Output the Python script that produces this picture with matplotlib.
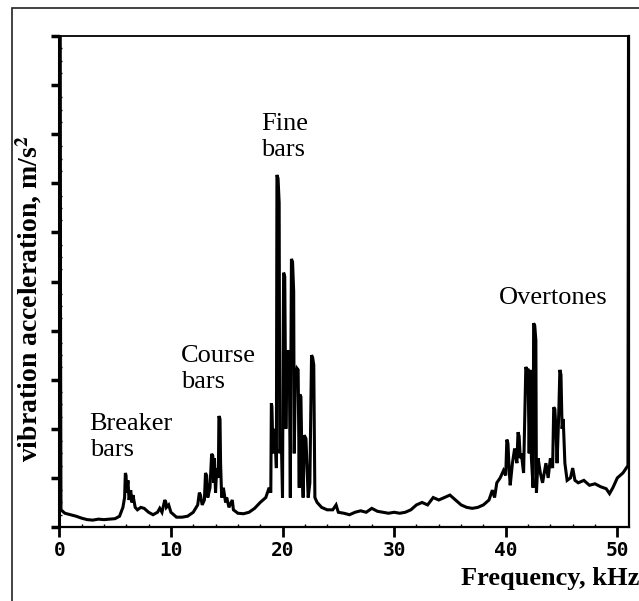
import matplotlib
matplotlib.use('Agg')
import matplotlib.pyplot as plt
from matplotlib.patches import Rectangle
from matplotlib.ticker import MultipleLocator, NullFormatter

# spectrum (kHz, arbitrary acceleration units)
freq = [0.0, 0.05, 0.15, 0.5, 1.0, 1.5, 2.0, 2.5, 3.0, 3.5, 4.0, 4.5, 5.0, 5.4,
        5.7, 5.85, 5.92, 5.98, 6.05, 6.15, 6.25, 6.4, 6.5, 6.6, 6.8, 7.0, 7.3,
        7.6, 8.0, 8.4, 8.8, 9.0, 9.2, 9.45, 9.55, 9.6, 9.8, 10.0, 10.5, 11.0,
        11.5, 12.0, 12.4, 12.55, 12.65, 12.8, 13.0, 13.1, 13.2, 13.3, 13.5,
        13.65, 13.75, 13.85, 13.9, 14.0, 14.1, 14.25, 14.3, 14.4, 14.45,
        14.55, 14.7, 14.9, 15.0, 15.2, 15.5, 15.6, 16.0, 16.5, 17.0, 17.5,
        18.0, 18.5, 18.8, 18.95, 19.0, 19.05, 19.15, 19.25, 19.35, 19.45,
        19.5, 19.6, 19.7, 19.75, 19.9, 20.0, 20.05, 20.1, 20.2, 20.3, 20.4,
        20.5, 20.6, 20.7, 20.75, 20.8, 20.9, 21.0, 21.05, 21.15, 21.3,
        21.4, 21.5, 21.55, 21.65, 21.75, 21.85, 21.95, 22.1, 22.2, 22.3,
        22.45, 22.6, 22.7, 22.8, 22.9, 23.1, 23.5, 24.0, 24.5, 24.8, 25.0,
        25.5, 26.0, 26.5, 27.0, 27.5, 28.0, 28.5, 29.0, 29.5, 30.0, 30.5,
        31.0, 31.5, 32.0, 32.5, 33.0, 33.5, 34.0, 34.5, 35.0, 35.5, 36.0,
        36.5, 37.0, 37.5, 38.0, 38.5, 38.8, 39.0, 39.2, 39.5, 39.8, 40.0,
        40.1, 40.2, 40.3, 40.4, 40.6, 40.8, 41.0, 41.1, 41.2, 41.3, 41.4,
        41.6, 41.8, 41.9, 42.0, 42.1, 42.2, 42.3, 42.45, 42.5, 42.6, 42.7,
        42.75, 42.9, 43.1, 43.3, 43.6, 43.8, 44.0, 44.2, 44.3, 44.4, 44.5,
        44.6, 44.75, 44.85, 44.95, 45.05, 45.15, 45.3, 45.5, 45.8, 46.0,
        46.2, 46.5, 47.0, 47.5, 48.0, 48.5, 49.0, 49.3, 49.6, 50.0, 50.5,
        50.8, 50.95, 51.0]
accel = [0.3, 10.0, 0.35, 0.28, 0.25, 0.22, 0.18, 0.15, 0.14, 0.16, 0.15, 0.16, 0.17, 0.22,
         0.4, 0.6, 1.1, 1.05, 0.7, 0.95, 0.55, 0.75, 0.5, 0.65, 0.4, 0.35, 0.4,
         0.38, 0.3, 0.25, 0.3, 0.38, 0.3, 0.55, 0.5, 0.4, 0.45, 0.3, 0.2, 0.2,
         0.22, 0.3, 0.45, 0.7, 0.65, 0.45, 0.55, 1.1, 1.05, 0.6, 0.8,
         1.49, 1.45, 0.9, 1.4, 0.7, 1.2, 1.0, 2.26, 2.2, 1.3,
         0.6, 0.8, 0.5, 0.6, 0.4, 0.55, 0.35, 0.28, 0.27, 0.3, 0.38,
         0.5, 0.6, 0.8, 0.7, 2.52, 2.45, 1.5, 2.0, 1.8, 1.2,
         7.17, 7.1, 6.6, 1.5, 1.7, 0.6, 3.5, 5.18, 5.1, 2.0, 3.6,
         3.5, 3.6, 0.6, 3.4, 5.46, 5.4, 4.8, 1.5, 3.0, 3.23,
         3.2, 0.8, 2.7, 2.65, 1.2, 0.6, 1.87, 1.8, 1.2, 0.6,
         0.9, 3.5, 3.45, 3.3, 0.6, 0.5, 0.4, 0.35, 0.35, 0.45, 0.3,
         0.28, 0.25, 0.3, 0.33, 0.3, 0.38, 0.32, 0.3, 0.28, 0.3, 0.28,
         0.3, 0.35, 0.45, 0.5, 0.45, 0.6, 0.55, 0.6, 0.65, 0.55, 0.45,
         0.4, 0.38, 0.4, 0.45, 0.55, 0.75, 0.6, 0.9, 1.0, 1.15, 1.05,
         1.78, 1.7, 1.2, 0.85, 1.3, 1.6, 1.3, 1.93, 1.85, 1.4, 1.5,
         1.1, 3.26, 3.2, 3.2, 1.5, 3.2, 1.4, 0.8, 4.15, 4.1, 3.8,
         0.7, 1.4, 1.1, 0.9, 1.3, 1.0, 1.4, 1.2, 2.44, 2.4, 2.0,
         1.3, 2.3, 3.2, 3.1, 2.0, 2.2, 1.3, 0.95, 1.0, 1.2,
         0.95, 0.9, 0.95, 0.85, 0.88, 0.82, 0.78, 0.68, 0.8, 1.0, 1.1,
         1.2, 1.25, 10.0]

labels = ['Breaker\nbars', 'Course\nbars', 'Fine\nbars', 'Overtones']
label_x = [2.72, 10.87, 18.09, 39.35]
label_y = [1.45, 2.83, 7.56, 4.54]   # baseline of the last line

x_ticks = [0, 10, 20, 30, 40, 50]

plt.rcParams['mathtext.fontset'] = 'stix'

fig = plt.figure(figsize=(6.39, 6.01), dpi=100)
ax = fig.add_axes([59.3 / 639, 1 - 527 / 601, 569.2 / 639, 491 / 601])

ax.plot(freq, accel, color='black', lw=2.2, solid_joinstyle='miter')

ax.set_xlim(0, 51.0)
ax.set_ylim(0, 10)

ax.set_xticks(x_ticks)
ax.set_xticklabels([str(t) for t in x_ticks], family='DejaVu Sans Mono',
                   fontsize=14, fontweight='bold')
ax.xaxis.set_minor_locator(MultipleLocator(2))
ax.tick_params(axis='x', which='major', direction='out', length=7, width=2, pad=3)
ax.tick_params(axis='x', which='minor', direction='in', length=2, width=1)

ax.yaxis.set_major_locator(MultipleLocator(1))
ax.yaxis.set_major_formatter(NullFormatter())
ax.yaxis.set_minor_locator(MultipleLocator(0.25))
ax.tick_params(axis='y', which='major', direction='out', length=6, width=2.5)
ax.tick_params(axis='y', which='minor', direction='in', length=2, width=1)

ax.spines['left'].set_linewidth(2.2)
ax.spines['bottom'].set_linewidth(1.6)
ax.spines['top'].set_linewidth(1.3)
ax.spines['right'].set_linewidth(1.6)

for txt, tx, ty in zip(labels, label_x, label_y):
    ax.text(tx, ty, txt, family='Liberation Serif', fontsize=19,
            ha='left', va='baseline', linespacing=1.25)

fig.text(29 / 639, 1 - 299 / 601, r'vibration acceleration, m/s$^{\mathbf{2}}$',
         family='Liberation Serif', fontweight='bold', fontsize=20,
         rotation=90, ha='center', va='center')
fig.text(639 / 639, 1 - 585 / 601, 'Frequency, kHz', family='Liberation Serif',
         fontweight='bold', fontsize=19, ha='right', va='baseline')

# frame around the whole scan
fig.patches.append(Rectangle((12 / 639, -0.05), 1.1, 1 - 8 / 601 + 0.05,
                             transform=fig.transFigure, fill=False,
                             edgecolor='#222222', lw=1.2))

fig.savefig('out.png', dpi=100)
